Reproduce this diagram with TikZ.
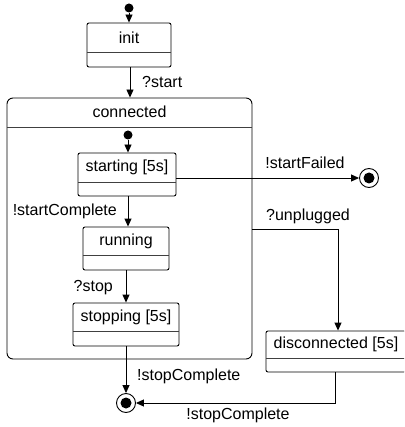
\documentclass[tikz,border=0pt]{standalone}
\usepackage{fontspec}
\setmainfont{Liberation Sans}
\usetikzlibrary{arrows.meta,calc}
\tikzset{
  statebox/.style={draw=black, line width=0.9pt, rounded corners=2pt, inner sep=0pt, fill=white},
  compbox/.style={draw=black, line width=0.9pt, rounded corners=6pt, inner sep=0pt},
  divider/.style={draw=black!75, line width=0.9pt},
  lbl/.style={inner sep=0pt, font=\fontsize{16}{19}\selectfont},
  trans/.style={draw=black, line width=0.9pt, -{Triangle[length=8pt,width=7pt]}},
  initdot/.style={circle, fill=black, inner sep=0pt, minimum size=9pt},
  finalst/.style={circle, draw=black, line width=0.9pt, inner sep=0pt, minimum size=19pt,
    path picture={\fill[black] (path picture bounding box.center) circle (5.5pt);}}
}
\begin{document}
\begin{tikzpicture}[x=1pt,y=-1pt]
\useasboundingbox (0,0) rectangle (404,427);
\clip (0,0) rectangle (404,427);
\fill[white] (0,0) rectangle (404,427);

% composite state
\node[compbox, minimum width=245pt, minimum height=261pt] (connected) at (129.5,228.5) {};
\draw[divider] (7,127) -- (252,127);
\node[lbl] (tconnected) at (129.5,112) {connected};

% init
\node[initdot] (i0) at (129,8) {};
\node[statebox, minimum width=84pt, minimum height=44pt] (init) at (129,45) {};
\draw[divider] (87,52) -- (171,52);
\node[lbl] (tinit) at (129,37.5) {init};

% inner initial
\node[initdot] (i1) at (128,135) {};

% starting
\node[statebox, minimum width=98pt, minimum height=43pt] (starting) at (127,174.5) {};
\draw[divider] (78,182) -- (176,182);
\node[lbl] (tstarting) at (127,167.5) {starting [5s]};

% running
\node[statebox, minimum width=86pt, minimum height=43pt] (running) at (126,248.5) {};
\draw[divider] (83,255) -- (169,255);
\node[lbl] (trunning) at (126,241) {running};

% stopping
\node[statebox, minimum width=106pt, minimum height=43pt] (stopping) at (126,324.5) {};
\draw[divider] (73,331) -- (179,331);
\node[lbl] (tstopping) at (126,317) {stopping [5s]};

% disconnected
\node[statebox, minimum width=140pt, minimum height=41pt] (disconnected) at (336,351.5) {};
\draw[divider] (266,358) -- (406,358);
\node[lbl] (tdisconnected) at (336,344) {disconnected [5s]};

% final states
\node[finalst] (f1) at (369,178) {};
\node[finalst] (f2) at (126,403) {};

% transitions
\draw[trans] (i0) -- (init);
\draw[trans] (init.south -| 130,0) -- (connected.north -| 130,0);
\draw[trans] (i1) -- (i1 |- starting.north);
\draw[trans] (starting.east |- f1) -- (f1);
\draw[trans] (starting.south -| 128,0) -- (running.north -| 128,0);
\draw[trans] (running.south) -- (stopping.north);
\draw[trans] (stopping.south) -- (f2);
\coordinate (u0) at (connected.east |- 0,229);
\coordinate (u1) at (338,229);
\draw[trans] (u0) -- (u1) -- (u1 |- disconnected.north);
\draw[trans] (disconnected.south -| 335,0) -- (335,403) -- (f2);

% labels
\node[lbl, anchor=west] (lstart) at (142,82) {?start};
\node[lbl] (lfailed) at (305,163) {!startFailed};
\node[lbl, anchor=east] (lcomplete) at (117,211) {!startComplete};
\node[lbl] (lunplug) at (308,216) {?unplugged};
\node[lbl, anchor=east] (lstop) at (113,288) {?stop};
\node[lbl, anchor=west] (lstopc1) at (137,376) {!stopComplete};
\node[lbl] (lstopc2) at (238,415) {!stopComplete};
\end{tikzpicture}
\end{document}
